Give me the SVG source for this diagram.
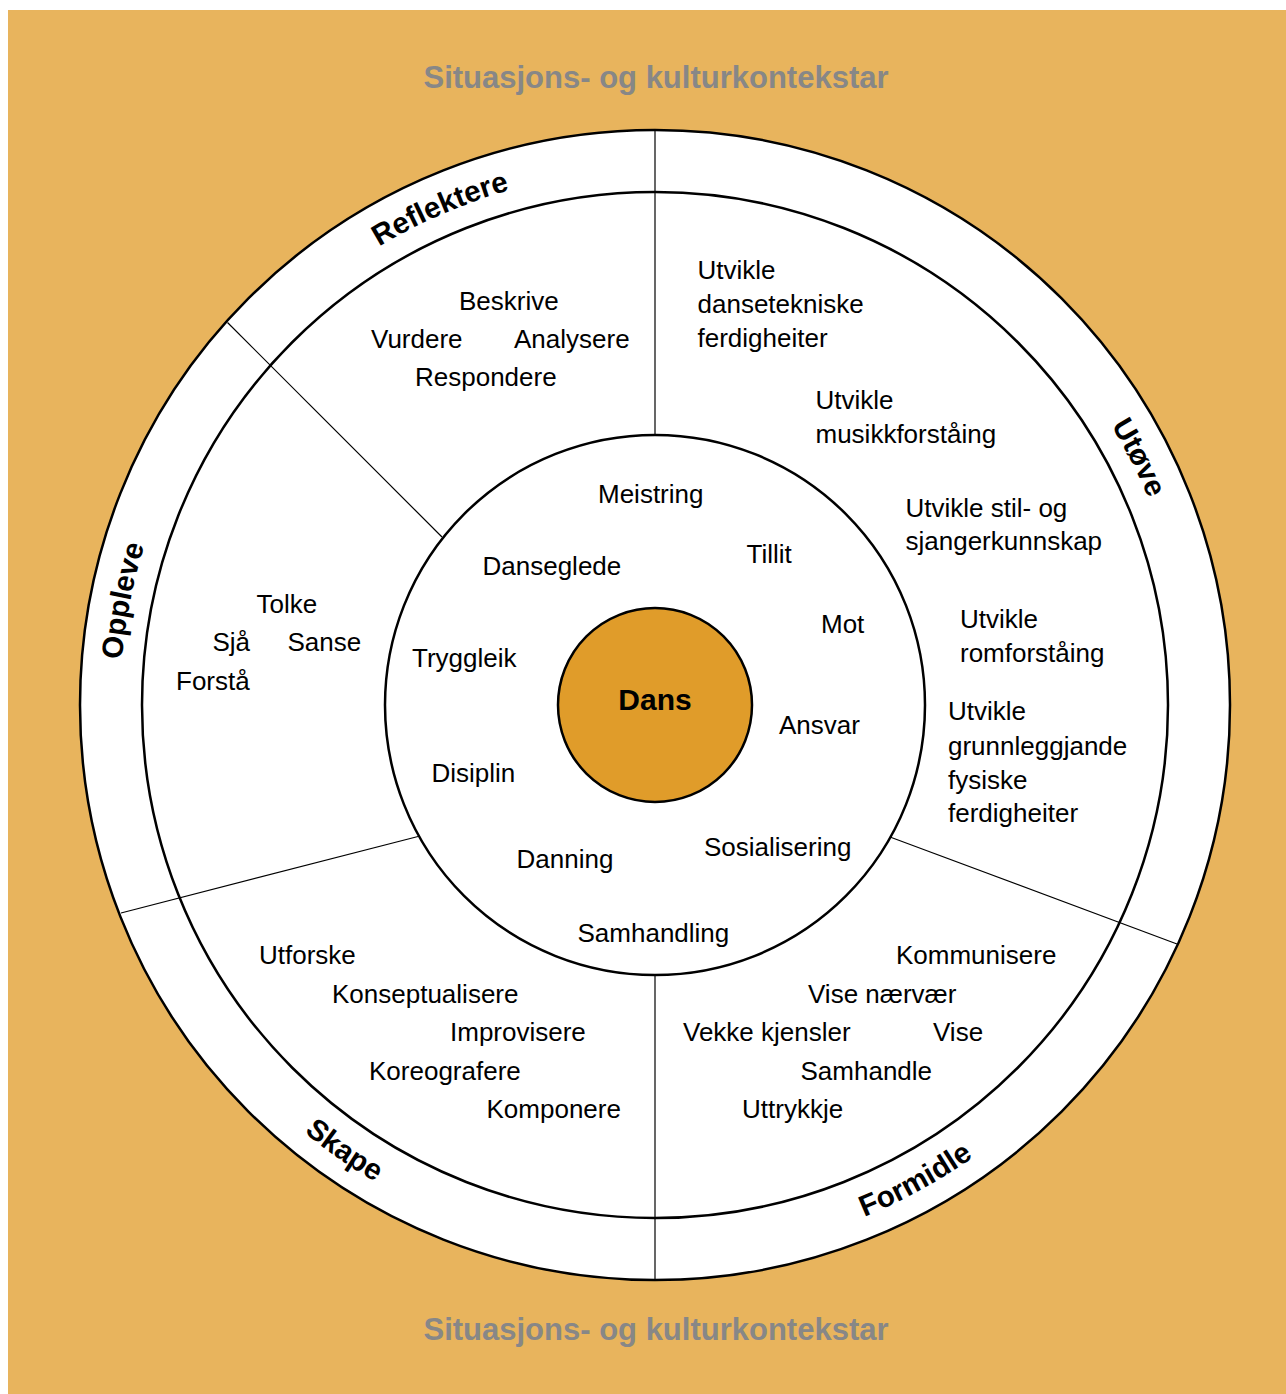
<svg xmlns="http://www.w3.org/2000/svg" xmlns:xlink="http://www.w3.org/1999/xlink" width="1286" height="1394" viewBox="0 0 1286 1394">
<style>
.t{font-family:"Liberation Sans",Arial,sans-serif;font-size:26px;fill:#000}
.lab{font-family:"Liberation Sans",Arial,sans-serif;font-size:29.5px;font-weight:bold;fill:#000}
.title{font-family:"Liberation Sans",Arial,sans-serif;font-size:31px;font-weight:bold;fill:#878787}
.ring{fill:none;stroke:#000;stroke-width:2.5}
.div{stroke:#000;stroke-width:1.2;fill:none}
</style>
<defs>
<path id="arcTop" d="M191.7,437.5 A535,535 0 0 1 1118.3,437.5"/>
<path id="arcBot" d="M176.1,981.5 A553,553 0 0 0 1133.9,981.5"/>
</defs>
<rect x="0" y="0" width="1286" height="1394" fill="#fff"/>
<rect x="8" y="10" width="1278" height="1384" fill="#E8B45D"/>
<text class="title" x="656" y="88" text-anchor="middle">Situasjons- og kulturkontekstar</text>
<text class="title" x="656" y="1340" text-anchor="middle">Situasjons- og kulturkontekstar</text>
<g id="outer-ring">
<circle cx="655" cy="705" r="575" fill="#fff" stroke="#000" stroke-width="2.5"/>
<circle class="ring" cx="655" cy="705" r="513"/>
<circle class="ring" cx="655" cy="705" r="270"/>
</g>
<g id="connectors">
<line class="div" x1="655" y1="130" x2="655" y2="435"/>
<line class="div" x1="655" y1="975" x2="655" y2="1280"/>
<line class="div" x1="227.5" y1="322.5" x2="442" y2="537"/>
<line class="div" x1="121" y1="913" x2="418" y2="836.5"/>
<line class="div" x1="890" y1="837" x2="1177" y2="944"/>
</g>
<g id="reflektere">
<text class="lab" transform="rotate(-23.4 655 705)"><textPath xlink:href="#arcTop" href="#arcTop" startOffset="50%" text-anchor="middle">Reflektere</textPath></text>
<text class="t" x="459" y="310">Beskrive</text>
<text class="t" x="371" y="348">Vurdere</text>
<text class="t" x="514" y="348">Analysere</text>
<text class="t" x="415" y="386">Respondere</text>
</g>
<g id="utove">
<text class="lab" transform="rotate(62.9 655 705)"><textPath xlink:href="#arcTop" href="#arcTop" startOffset="50%" text-anchor="middle">Utøve</textPath></text>
<text class="t" x="697.5" y="279">Utvikle</text>
<text class="t" x="697.5" y="313">dansetekniske</text>
<text class="t" x="697.5" y="347">ferdigheiter</text>
<text class="t" x="815.5" y="409">Utvikle</text>
<text class="t" x="815.5" y="443">musikkforståing</text>
<text class="t" x="905.5" y="516.5">Utvikle stil- og</text>
<text class="t" x="905.5" y="550">sjangerkunnskap</text>
<text class="t" x="960" y="628">Utvikle</text>
<text class="t" x="960" y="661.5">romforståing</text>
<text class="t" x="948" y="720">Utvikle</text>
<text class="t" x="948" y="755">grunnleggjande</text>
<text class="t" x="948" y="788.5">fysiske</text>
<text class="t" x="948" y="821.5">ferdigheiter</text>
</g>
<g id="oppleve">
<text class="lab" transform="rotate(-78.9 655 705)"><textPath xlink:href="#arcTop" href="#arcTop" startOffset="50%" text-anchor="middle">Oppleve</textPath></text>
<text class="t" x="256.5" y="613">Tolke</text>
<text class="t" x="212.5" y="651">Sjå</text>
<text class="t" x="287.5" y="651">Sanse</text>
<text class="t" x="176" y="690">Forstå</text>
</g>
<g id="skape">
<text class="lab" transform="rotate(34.9 655 705)"><textPath xlink:href="#arcBot" href="#arcBot" startOffset="50%" text-anchor="middle">Skape</textPath></text>
<text class="t" x="259" y="964">Utforske</text>
<text class="t" x="332" y="1002.5">Konseptualisere</text>
<text class="t" x="450" y="1041">Improvisere</text>
<text class="t" x="369" y="1079.5">Koreografere</text>
<text class="t" x="486.5" y="1118">Komponere</text>
</g>
<g id="formidle">
<text class="lab" transform="rotate(-28.7 655 705)"><textPath xlink:href="#arcBot" href="#arcBot" startOffset="50%" text-anchor="middle">Formidle</textPath></text>
<text class="t" x="896" y="964">Kommunisere</text>
<text class="t" x="808" y="1002.5">Vise nærvær</text>
<text class="t" x="683" y="1041">Vekke kjensler</text>
<text class="t" x="933" y="1041">Vise</text>
<text class="t" x="800.5" y="1079.5">Samhandle</text>
<text class="t" x="742" y="1117.5">Uttrykkje</text>
</g>
<g id="verdiar">
<text class="t" x="598" y="503">Meistring</text>
<text class="t" x="746.5" y="563">Tillit</text>
<text class="t" x="482.5" y="575">Danseglede</text>
<text class="t" x="821" y="633">Mot</text>
<text class="t" x="412" y="666.5">Tryggleik</text>
<text class="t" x="779" y="734">Ansvar</text>
<text class="t" x="431.5" y="782">Disiplin</text>
<text class="t" x="704" y="855.5">Sosialisering</text>
<text class="t" x="516.5" y="868">Danning</text>
<text class="t" x="577.5" y="941.5">Samhandling</text>
</g>
<g id="dans">
<circle cx="655" cy="705" r="97" fill="#E09C2A" stroke="#000" stroke-width="2.5"/>
<text x="655" y="710" text-anchor="middle" style="font-family:'Liberation Sans',Arial,sans-serif;font-size:30px;font-weight:bold;fill:#000">Dans</text>
</g>
</svg>
